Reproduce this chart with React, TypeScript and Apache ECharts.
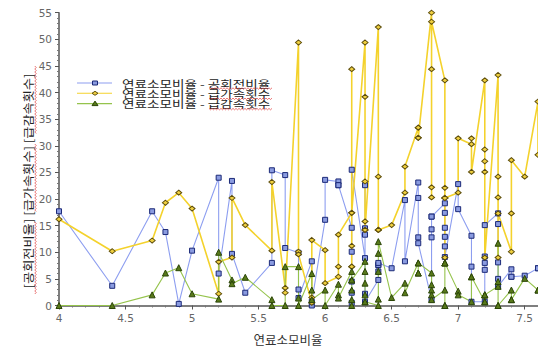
import React, { useEffect, useRef } from "react";
import * as echarts from "echarts";

const fuelRatio = [
  4.0, 4.4, 4.7, 4.8, 4.9, 5.0, 5.2, 5.2, 5.3, 5.3, 5.4, 5.6, 5.6, 5.7, 5.7,
  5.8, 5.8, 5.8, 5.9, 5.9, 5.9, 6.0, 6.0, 6.1, 6.1, 6.1, 6.2, 6.2, 6.2, 6.2,
  6.2, 6.2, 6.3, 6.3, 6.3, 6.3, 6.3, 6.3, 6.4, 6.4, 6.4, 6.4, 6.4, 6.5, 6.6,
  6.6, 6.7, 6.7, 6.7, 6.7, 6.8, 6.8, 6.8, 6.8, 6.8, 6.9, 6.9, 6.9, 6.9, 6.9,
  6.9, 7.0, 7.0, 7.1, 7.1, 7.1, 7.2, 7.2, 7.2, 7.2, 7.2, 7.3, 7.3, 7.3, 7.3,
  7.3, 7.4, 7.4, 7.4, 7.5, 7.6, 7.6,
];
const idleRatio = [
  17.7, 3.7, 17.7, 13.8, 0.3, 10.3, 24.0, 6.0, 23.4, 9.7, 2.4, 8.0, 25.4, 24.5,
  10.8, 9.9, 3.0, 1.4, 8.3, 0.0, 0.7, 16.1, 23.6, 23.3, 22.6, 22.6, 14.6, 10.1,
  4.5, 2.4, 0.5, 25.5, 8.9, 22.6, 14.5, 13.3, 2.2, 0.7, 4.8, 6.4, 7.6, 7.6, 8.0,
  7.0, 19.8, 8.3, 23.1, 20.2, 12.8, 11.7, 1.1, 12.8, 14.3, 16.7, 16.7, 19.2,
  17.4, 14.6, 12.9, 11.1, 9.1, 22.8, 18.1, 13.1, 7.3, 0.7, 0.7, 6.7, 8.0, 9.2,
  15.1, 17.3, 15.3, 8.1, 5.0, 3.6, 6.8, 5.4, 5.4, 5.6, 7.0, 7.0,
];
const rapidAccel = [
  16.2, 10.2, 12.2, 19.3, 21.2, 18.2, 2.2, 8.2, 9.0, 20.2, 15.1, 10.3, 23.2, 3.3,
  2.4, 49.4, 10.1, 9.6, 0.5, 1.5, 12.3, 10.4, 4.2, 5.4, 7.3, 13.3, 17.4, 44.4,
  11.2, 7.3, 7.3, 17.4, 49.4, 39.2, 23.3, 15.8, 14.2, 14.2, 52.3, 24.2, 14.2,
  14.2, 14.2, 15.1, 21.2, 26.1, 33.4, 33.4, 31.5, 31.5, 55.0, 20.3, 22.2, 44.4,
  53.3, 42.3, 22.1, 20.2, 9.0, 20.2, 20.2, 21.2, 31.4, 30.3, 31.4, 25.1, 42.3,
  29.3, 27.1, 25.1, 9.0, 43.3, 24.2, 20.3, 9.0, 17.3, 10.1, 17.3, 27.3, 24.2,
  38.3, 28.3,
];
const rapidDecel = [
  0, 0, 2.0, 6.1, 7.1, 2.2, 1.2, 10.0, 4.8, 4.1, 5.3, 1.1, 0, 0, 7.3, 7.3, 1.4,
  0, 6.0, 2.9, 1.1, 2.9, 0, 4.0, 2.0, 1.4, 6.4, 4.8, 2.9, 1.1, 0, 4.8, 8.3, 6.4,
  4.2, 2.0, 0.7, 0.7, 0, 1.2, 6.4, 9.8, 12.0, 1.5, 4.2, 2.4, 8.0, 6.1, 6.1, 8.0,
  6.1, 3.9, 2.9, 2.0, 1.1, 2.9, 0, 0, 8.0, 8.0, 8.0, 2.7, 2.0, 0.7, 5.4, 5.4,
  0.7, 2.0, 2.0, 0.7, 2.0, 3.6, 4.5, 11.7, 0, 0, 2.9, 1.1, 1.1, 5.1, 2.9, 2.9,
];

const seriesNames = [
  "연료소모비율 - 공회전비율",
  "연료소모비율 - 급가속횟수",
  "연료소모비율 - 급감속횟수",
];
const xTitle = "연료소모비율";
const yTitle = "[공회전비율] [급가속횟수] [급감속횟수]";

const KR = "'Noto Sans CJK KR', 'Noto Sans', sans-serif";
const NUM = "'DejaVu Sans', Verdana, sans-serif";

const styles = [
  { line: "#8d9ef0", fill: "#8a9be0", border: "#1c2a78", symbol: "rect", size: [5, 5], width: 1.1 },
  { line: "#f4d22c", fill: "#f0d040", border: "#5e4e0c", symbol: "diamond", size: [6, 5], width: 1.6 },
  { line: "#95c34c", fill: "#58791a", border: "#2b4507", symbol: "triangle", size: [6, 6], width: 1.1 },
];

function squiggle(a0: number, a1: number, c: number, vertical: boolean) {
  const pts: number[][] = [];
  let k = 0;
  for (let a = a0; a <= a1; a += 1.5) {
    const o = k % 2 === 0 ? -0.7 : 0.7;
    pts.push(vertical ? [c + o, a] : [a, c + o]);
    k++;
  }
  return pts;
}

export default function App() {
  const ref = useRef<HTMLDivElement>(null);
  useEffect(() => {
    if (!ref.current) return;
    const chart = echarts.init(ref.current, undefined, { renderer: "svg" });
    const valueSets = [idleRatio, rapidAccel, rapidDecel];
    const series = valueSets.map((vals, si) => ({
      name: seriesNames[si],
      type: "line",
      data: fuelRatio.map((x, i) => [x, vals[i]]),
      symbol: styles[si].symbol,
      symbolSize: styles[si].size,
      showAllSymbol: true,
      clip: true,
      lineStyle: { color: styles[si].line, width: styles[si].width },
      itemStyle: { color: styles[si].fill, borderColor: styles[si].border, borderWidth: 1 },
      emphasis: { disabled: true },
    }));

    const legendRows = [83, 93.3, 103.6];
    const legendGraphics: any[] = [];
    legendRows.forEach((ry, i) => {
      legendGraphics.push({
        type: "line",
        shape: { x1: 77, y1: ry, x2: 112, y2: ry },
        style: { stroke: styles[i].line, lineWidth: 1.1 },
      });
      const cx = 95;
      if (i === 0) {
        legendGraphics.push({
          type: "rect",
          shape: { x: cx - 2.5, y: ry - 2, width: 5, height: 4 },
          style: { fill: styles[i].fill, stroke: styles[i].border, lineWidth: 1 },
        });
      } else if (i === 1) {
        legendGraphics.push({
          type: "polygon",
          shape: { points: [[cx, ry - 2], [cx + 3, ry], [cx, ry + 2], [cx - 3, ry]] },
          style: { fill: styles[i].fill, stroke: styles[i].border, lineWidth: 1 },
        });
      } else {
        legendGraphics.push({
          type: "polygon",
          shape: { points: [[cx, ry - 2.5], [cx + 3, ry + 2], [cx - 3, ry + 2]] },
          style: { fill: styles[i].fill, stroke: styles[i].border, lineWidth: 1 },
        });
      }
      legendGraphics.push({
        type: "text",
        x: 122,
        y: ry,
        scaleX: 1.36,
        style: {
          text: seriesNames[i],
          font: `10px ${KR}`,
          fill: "#222",
          textVerticalAlign: "middle",
          textAlign: "left",
        },
      });
      legendGraphics.push({
        type: "polyline",
        shape: { points: squiggle(209, 272, ry + 5.5, false) },
        style: { stroke: "#e03a3a", lineWidth: 0.7, fill: null },
      });
    });

    const ySquiggles = [
      [66, 134],
      [144, 212],
      [222, 294],
    ].map((s) => ({
      type: "polyline",
      shape: { points: squiggle(s[0], s[1], 35.5, true) },
      style: { stroke: "#e03a3a", lineWidth: 0.7, fill: null },
    }));

    chart.setOption({
      animation: false,
      backgroundColor: "#ffffff",
      grid: { left: 59, right: 0, top: 12.7, bottom: 42.5, outerBoundsMode: "none" },
      xAxis: {
        type: "value",
        min: 4,
        max: 7.6,
        interval: 0.5,
        axisLine: { show: true, onZero: false, lineStyle: { color: "#555", width: 1.5 } },
        axisTick: { show: true, length: 4, lineStyle: { color: "#555" } },
        minorTick: { show: true, splitNumber: 5, length: 2, lineStyle: { color: "#777" } },
        axisLabel: { color: "#666", fontFamily: NUM, fontSize: 10.5, margin: 7, showMaxLabel: false },
        splitLine: { show: false },
      },
      yAxis: {
        type: "value",
        min: 0,
        max: 55,
        interval: 5,
        axisLine: { show: true, onZero: false, lineStyle: { color: "#555", width: 1.5 } },
        axisTick: { show: true, length: 4, lineStyle: { color: "#555" } },
        minorTick: { show: true, splitNumber: 5, length: 2, lineStyle: { color: "#777" } },
        axisLabel: { color: "#666", fontFamily: NUM, fontSize: 10.5, margin: 7 },
        splitLine: { show: false },
      },
      series,
      graphic: [
        ...legendGraphics,
        {
          type: "text",
          x: 288,
          y: 339,
          style: {
            text: xTitle,
            font: `12.5px ${KR}`,
            fill: "#333",
            textAlign: "center",
            textVerticalAlign: "middle",
          },
        },
        {
          type: "text",
          x: 28,
          y: 181,
          rotation: Math.PI / 2,
          scaleX: 1.15,
          style: {
            text: yTitle,
            font: `11.5px ${KR}`,
            fill: "#222",
            textAlign: "center",
            textVerticalAlign: "middle",
          },
        },
        ...ySquiggles,
      ],
    });
    return () => chart.dispose();
  }, []);
  return (
    <div
      ref={ref}
      style={{ position: "fixed", left: 0, top: 0, width: 538, height: 348, background: "#fff" }}
    />
  );
}
